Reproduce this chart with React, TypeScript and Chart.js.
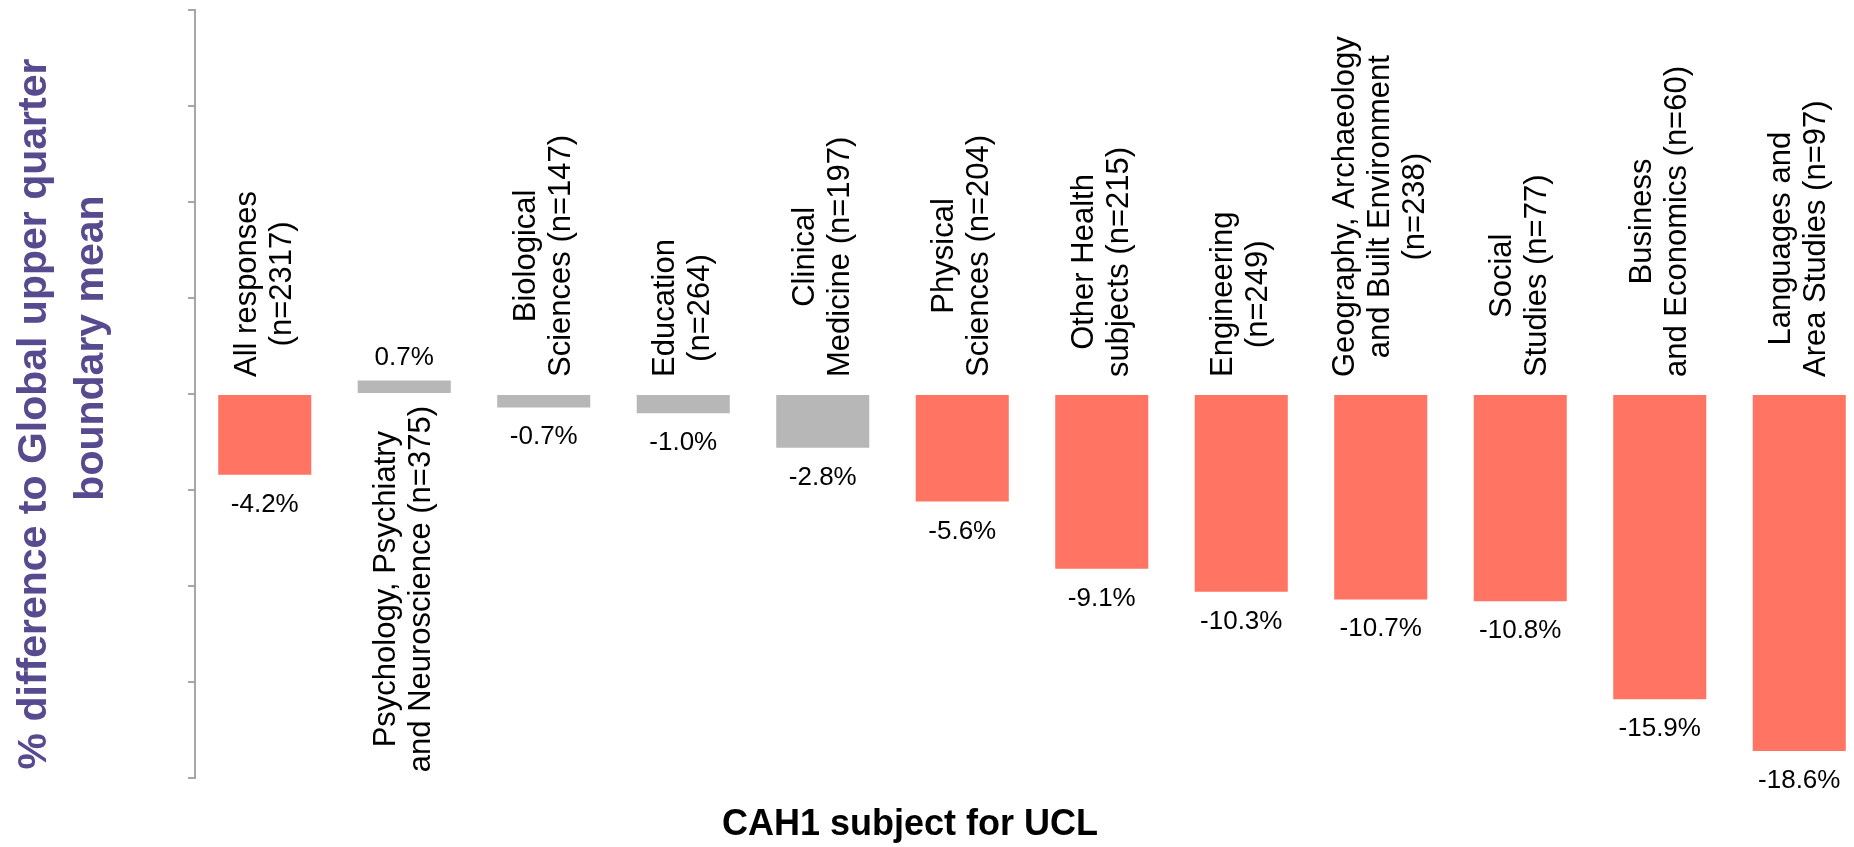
import React, { useEffect, useRef } from "react";
import { Chart, registerables } from "chart.js";

Chart.register(...registerables);

const categories: string[] = [
  "All responses\n(n=2317)",
  "Psychology, Psychiatry\nand Neuroscience (n=375)",
  "Biological\nSciences (n=147)",
  "Education\n(n=264)",
  "Clinical\nMedicine (n=197)",
  "Physical\nSciences (n=204)",
  "Other Health\nsubjects (n=215)",
  "Engineering\n(n=249)",
  "Geography, Archaeology\nand Built Environment\n(n=238)",
  "Social\nStudies (n=77)",
  "Business\nand Economics (n=60)",
  "Languages and\nArea Studies (n=97)",
];

const values: number[] = [-4.2, 0.7, -0.7, -1.0, -2.8, -5.6, -9.1, -10.3, -10.7, -10.8, -15.9, -18.6];

const significant: boolean[] = [true, false, false, false, false, true, true, true, true, true, true, true];

const yTicks: number[] = [-20, -15, -10, -5, 0, 5, 10, 15, 20];

const yTitleLines: string[] = ["% difference to Global upper quarter", "boundary mean"];
const xTitle = "CAH1 subject for UCL";

const RED = "#FF7462";
const GREY = "#B7B7B7";
const AXIS = "#A6A6A6";
const PURPLE = "#574A8F";
const FONT = "'Liberation Sans', Arial, sans-serif";

const labelPlugin = {
  id: "customLabels",
  afterDraw(chart: any) {
    const ctx = chart.ctx as CanvasRenderingContext2D;
    const xs = chart.scales.x;
    const ys = chart.scales.y;
    const zeroY = ys.getPixelForValue(0);
    ctx.save();
    ctx.fillStyle = "#000";

    // category labels (rotated)
    const catFont = 31;
    const lineH = 35;
    ctx.font = `${catFont}px ${FONT}`;
    categories.forEach((cat, i) => {
      const lines = cat.split("\n");
      const cx = xs.getPixelForValue(i);
      const maxW = Math.max(...lines.map((l) => ctx.measureText(l).width));
      const v = values[i];
      const gap = v < 0 ? 17 : 12;
      const center = v < 0 ? gap + maxW / 2 : -gap - maxW / 2;
      ctx.save();
      ctx.translate(cx, zeroY);
      ctx.rotate(-Math.PI / 2);
      ctx.textAlign = "center";
      ctx.textBaseline = "middle";
      lines.forEach((l, j) => {
        const off = (j - (lines.length - 1) / 2) * lineH;
        ctx.fillText(l, center, off);
      });
      ctx.restore();
    });

    // value labels
    ctx.font = `26px ${FONT}`;
    ctx.textAlign = "center";
    ctx.textBaseline = "alphabetic";
    values.forEach((v, i) => {
      const cx = xs.getPixelForValue(i);
      const py = ys.getPixelForValue(v);
      const txt = `${v.toFixed(1)}%`;
      if (v < 0) ctx.fillText(txt, cx, py + 37);
      else ctx.fillText(txt, cx, py - 16);
    });

    // y title
    ctx.fillStyle = PURPLE;
    ctx.font = `bold 41px ${FONT}`;
    const yCenters = [414, 348];
    const yBase = [46, 103];
    yTitleLines.forEach((l, j) => {
      ctx.save();
      ctx.translate(yBase[j], yCenters[j]);
      ctx.rotate(-Math.PI / 2);
      ctx.textAlign = "center";
      ctx.textBaseline = "alphabetic";
      ctx.fillText(l, 0, 0);
      ctx.restore();
    });

    // x title
    ctx.fillStyle = "#000";
    ctx.font = `bold 36px ${FONT}`;
    ctx.textAlign = "center";
    ctx.fillText(xTitle, 910, 835);
    ctx.restore();
  },
};

export default function App() {
  const ref = useRef<HTMLCanvasElement | null>(null);
  useEffect(() => {
    if (!ref.current) return;
    const chart = new Chart(ref.current, {
      type: "bar",
      data: {
        labels: categories,
        datasets: [
          {
            data: values,
            backgroundColor: significant.map((s) => (s ? RED : GREY)),
            borderWidth: 0,
            categoryPercentage: 1,
            barPercentage: 0.667,
          },
        ],
      },
      options: {
        animation: false,
        responsive: false,
        maintainAspectRatio: false,
        devicePixelRatio: 1,
        layout: { padding: { left: 188, right: 11, top: 10, bottom: 69 } },
        plugins: { legend: { display: false }, tooltip: { enabled: false }, title: { display: false } },
        scales: {
          x: { display: false, offset: true },
          y: {
            min: -20,
            max: 20,
            afterBuildTicks: (scale: any) => {
              scale.ticks = yTicks.map((v) => ({ value: v }));
            },
            ticks: { display: false },
            grid: { drawOnChartArea: false, drawTicks: true, tickLength: 7, color: AXIS, lineWidth: 2 },
            border: { display: true, color: AXIS, width: 2 },
          },
        },
      },
      plugins: [labelPlugin],
    });
    return () => chart.destroy();
  }, []);
  return (
    <div style={{ position: "fixed", left: 0, top: 0, width: 1854, height: 847, overflow: "hidden", background: "#fff" }}>
      <canvas ref={ref} width={1880} height={847} style={{ display: "block", width: 1880, height: 847 }} />
    </div>
  );
}
